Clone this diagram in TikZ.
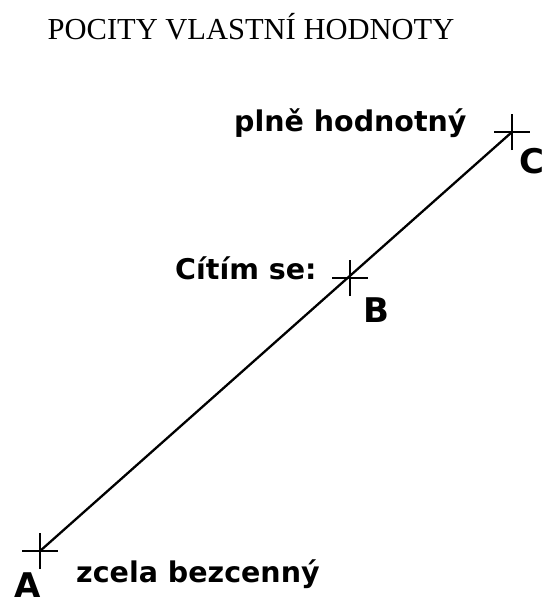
\documentclass[tikz,border=0pt]{standalone}
\usepackage{fontspec}
\setmainfont{Liberation Serif}
\newfontfamily\lblfont{DejaVu Sans}
\usepackage{tikz}
\usetikzlibrary{positioning}

\begin{document}
\begin{tikzpicture}[
  x=1pt, y=-1pt,
  scaletext/.style={font=\lblfont\bfseries\fontsize{28.5}{32}\selectfont, inner sep=0pt, anchor=base west},
  pointname/.style={font=\lblfont\bfseries\fontsize{34}{38}\selectfont, inner sep=0pt, anchor=base west},
  scaleline/.style={line width=2.3pt, black},
  tickmark/.style={line width=2.3pt, black}
]
\useasboundingbox (0,0) rectangle (545,600);
\node[font=\fontsize{30.5}{34}\selectfont, inner sep=0pt, anchor=base] (title) at (251,39) {POCITY VLASTNÍ HODNOTY};
% body scale
\coordinate (A) at (40,551);
\coordinate (B) at (350,278);
\coordinate (C) at (512,132);
\draw[scaleline] (A) -- (C);
\foreach \p in {A,B,C}
  \draw[tickmark] ([xshift=-18pt]\p) -- ([xshift=18pt]\p)
                  ([yshift=-18pt]\p) -- ([yshift=18pt]\p);
\node[pointname] (lA) at (14,597) {A};
\node[pointname] (lB) at (363,322) {B};
\node[pointname] (lC) at (519,173) {C};
\node[scaletext] (top) at (234,131) {plně hodnotný};
\node[scaletext] (mid) at (175,279) {Cítím se:};
\node[scaletext] (bot) at (76,582) {zcela bezcenný};
\end{tikzpicture}
\end{document}
